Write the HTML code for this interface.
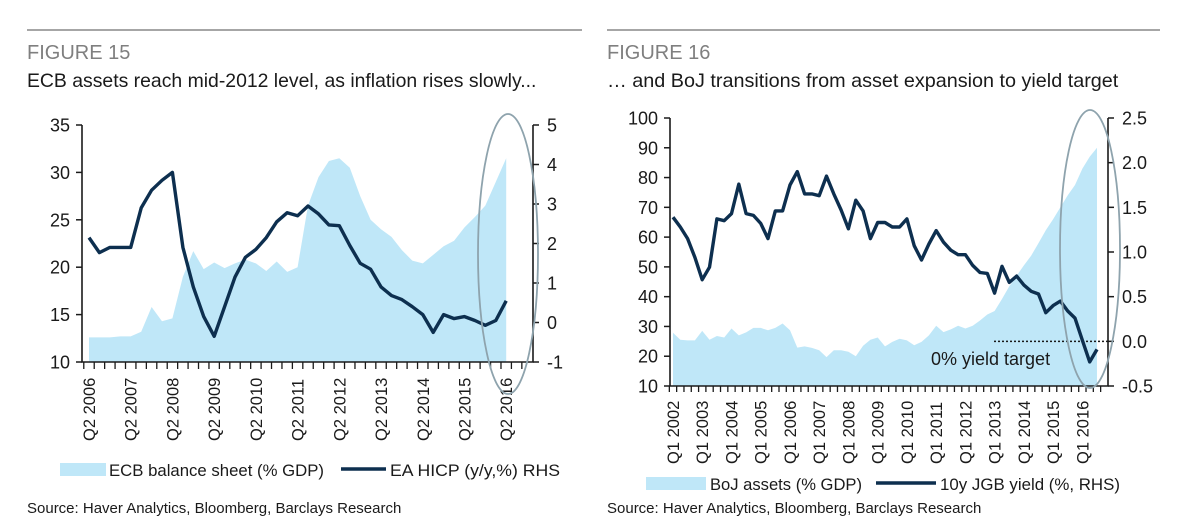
<!DOCTYPE html>
<html><head><meta charset="utf-8"><style>
html,body{margin:0;padding:0;background:#fff;}
svg{display:block;font-family:"Liberation Sans",sans-serif;}
</style></head><body>
<svg id="root" width="1200" height="528" viewBox="0 0 1200 528">
<rect width="1200" height="528" fill="#fff"/>
<line x1="27" y1="30" x2="582" y2="30" stroke="#a6a6a6" stroke-width="2"/>
<text x="27" y="59" font-size="20" fill="#7f7f7f">FIGURE 15</text>
<text x="27" y="87" font-size="19.4" fill="#1a1a1a">ECB assets reach mid-2012 level, as inflation rises slowly...</text>
<line x1="607" y1="30" x2="1160" y2="30" stroke="#a6a6a6" stroke-width="2"/>
<text x="607" y="59" font-size="20" fill="#7f7f7f">FIGURE 16</text>
<text x="607" y="87" font-size="19.8" fill="#1a1a1a">… and BoJ transitions from asset expansion to yield target</text>
<g id="c1"></g>
<g id="c2"></g>
<rect x="60" y="463" width="46" height="13" fill="#bfe7f8"/>
<text x="109" y="476" font-size="17" textLength="215" lengthAdjust="spacingAndGlyphs" fill="#1a1a1a">ECB balance sheet (% GDP)</text>
<line x1="341" y1="469" x2="386" y2="469" stroke="#0d2f4f" stroke-width="3.5"/>
<text x="390" y="476" font-size="17" textLength="170" lengthAdjust="spacingAndGlyphs" fill="#1a1a1a">EA HICP (y/y,%) RHS</text>
<text x="27" y="513" font-size="15" fill="#1a1a1a">Source: Haver Analytics, Bloomberg, Barclays Research</text>
<rect x="646" y="477" width="60" height="13" fill="#bfe7f8"/>
<text x="710" y="490" font-size="17" textLength="152" lengthAdjust="spacingAndGlyphs" fill="#1a1a1a">BoJ assets (% GDP)</text>
<line x1="876" y1="483" x2="936" y2="483" stroke="#0d2f4f" stroke-width="3.5"/>
<text x="940" y="490" font-size="17" textLength="180" lengthAdjust="spacingAndGlyphs" fill="#1a1a1a">10y JGB yield (%, RHS)</text>
<text x="607" y="513" font-size="15" fill="#1a1a1a">Source: Haver Analytics, Bloomberg, Barclays Research</text>
</svg>
<script>
const NS='http://www.w3.org/2000/svg';
function mk(p,t,a){const e=document.createElementNS(NS,t);for(const k in a)e.setAttribute(k,a[k]);p.appendChild(e);return e;}

// ---------- Chart 1 data ----------
const ecbYears=['Q2 2006','Q2 2007','Q2 2008','Q2 2009','Q2 2010','Q2 2011','Q2 2012','Q2 2013','Q2 2014','Q2 2015','Q2 2016'];
const ecbAssets=[12.6,12.6,12.6,12.7,12.7,13.2,15.8,14.3,14.6,19.0,21.7,19.8,20.5,19.9,20.4,20.8,20.4,19.6,20.6,19.5,20.0,26.5,29.5,31.2,31.5,30.5,27.5,25.0,24.0,23.2,21.8,20.7,20.4,21.3,22.2,22.8,24.2,25.3,26.5,29.0,31.5];
const hicp=[2.15,1.77,1.9,1.9,1.9,2.9,3.35,3.6,3.8,1.9,0.9,0.15,-0.35,0.4,1.15,1.65,1.85,2.15,2.55,2.78,2.7,2.95,2.75,2.47,2.45,1.95,1.5,1.35,0.9,0.68,0.58,0.4,0.2,-0.25,0.2,0.1,0.15,0.05,-0.07,0.05,0.55];
const ecbLeftTicks=[10,15,20,25,30,35];
const ecbRightTicks=[-1,0,1,2,3,4,5];

// ---------- Chart 2 data ----------
const bojYears=['Q1  2002','Q1  2003','Q1  2004','Q1  2005','Q1  2006','Q1  2007','Q1  2008','Q1  2009','Q1  2010','Q1  2011','Q1  2012','Q1  2013','Q1  2014','Q1  2015','Q1  2016'];
const bojAssets=[27.9,25.5,25.3,25.3,28.5,25.5,26.8,26.3,29.3,27,28,29.5,29.5,28.7,29.5,31,28.7,22.9,23.3,22.8,22,19.7,22,22,21.5,20,23.5,25.5,26.3,23.3,24.8,25.9,25.3,23.7,24.8,27,30.2,28.1,29,30.2,29.3,30.2,32,34,35.2,39.2,43.5,47,50.5,53.8,58,62.3,66,70,74,77.5,83,87,90];
const jgb=[1.39,1.28,1.15,0.94,0.69,0.83,1.37,1.35,1.43,1.76,1.43,1.41,1.32,1.15,1.46,1.46,1.75,1.9,1.65,1.65,1.63,1.85,1.65,1.47,1.26,1.58,1.46,1.15,1.33,1.33,1.28,1.28,1.37,1.07,0.91,1.09,1.24,1.11,1.02,0.97,0.97,0.85,0.77,0.76,0.54,0.84,0.66,0.73,0.63,0.56,0.53,0.32,0.4,0.45,0.34,0.26,0.01,-0.23,-0.09];
const bojLeftTicks=[10,20,30,40,50,60,70,80,90,100];
const bojRightTicks=['-0.5','0.0','0.5','1.0','1.5','2.0','2.5'];

function drawChart(g,o){
  const X=i=>o.x0+i*o.step;
  const YL=v=>o.yb-(v-o.lmin)/(o.lmax-o.lmin)*(o.yb-o.yt);
  const YR=v=>o.yb-(v-o.rmin)/(o.rmax-o.rmin)*(o.yb-o.yt);
  let d='M'+X(0)+','+o.yb;
  o.area.forEach((v,i)=>d+=' L'+X(i).toFixed(1)+','+YL(v).toFixed(1));
  d+=' L'+X(o.area.length-1)+','+o.yb+' Z';
  const a=mk(g,'path',{d:d,fill:'#bfe7f8'});
  
  
  if(o.extra)o.extra(g,YR);
  let p='';
  o.line.forEach((v,i)=>p+=(i?' L':'M')+X(i).toFixed(1)+','+YR(v).toFixed(1));
  const l=mk(g,'path',{d:p,fill:'none',stroke:'#0d2f4f','stroke-width':3.4,'stroke-linejoin':'round'});
  
  
  const ax=mk(g,'path',{d:`M${o.xl},${o.yt} V${o.yb} H${o.xr} V${o.yt}`,fill:'none',stroke:'#1a1a1a','stroke-width':1.6});
  
  
  o.lt.forEach(v=>{
    const y=YL(v);
    mk(g,'line',{x1:o.xl-6,y1:y,x2:o.xl,y2:y,stroke:'#1a1a1a','stroke-width':1.5});
    const t=mk(g,'text',{x:o.xl-12,y:y+6.5,'text-anchor':'end','font-size':18,fill:'#1a1a1a'});
    t.textContent=v;
    
    
  });
  o.rt.forEach(s=>{
    const y=YR(parseFloat(s));
    mk(g,'line',{x1:o.xr,y1:y,x2:o.xr+6,y2:y,stroke:'#1a1a1a','stroke-width':1.5});
    const t=mk(g,'text',{x:o.xr+14,y:y+6.5,'font-size':18,fill:'#1a1a1a'});
    t.textContent=s;
    
    
  });
  for(let i=0;i<=o.nTicks;i++){
    const x=X(i-0.5);
    mk(g,'line',{x1:x,y1:o.yb,x2:x,y2:o.yb+o.tl,stroke:'#1a1a1a','stroke-width':1.3});
  }
  o.labels.forEach((s,k)=>{
    const x=X(k*4)+6, y=o.lb;
    const t=mk(g,'text',{x:x,y:y,'font-size':16.5,fill:'#1a1a1a',transform:`rotate(-90 ${x} ${y})`,'xml:space':'preserve'});
    t.textContent=s;
    
    
  });
  const el=mk(g,'ellipse',{cx:o.ell[0],cy:o.ell[1],rx:o.ell[2],ry:o.ell[3],fill:'none',stroke:'#8ea3ad','stroke-width':1.8});
  
  
}

drawChart(document.getElementById('c1'),{
  x0:89,step:10.43,yt:125,yb:362,xl:82,xr:533,lmin:10,lmax:35,rmin:-1,rmax:5,
  area:ecbAssets,line:hicp,lt:ecbLeftTicks,rt:ecbRightTicks.map(String),nTicks:42,tl:7,
  labels:ecbYears,lb:441,ell:[508,254,30,140],areaName:'ecb-balance-sheet-area',lineName:'hicp-line'
});
drawChart(document.getElementById('c2'),{
  x0:673,step:7.31,yt:118,yb:386,xl:670,xr:1108,lmin:10,lmax:100,rmin:-0.5,rmax:2.5,
  area:bojAssets,line:jgb,lt:bojLeftTicks,rt:bojRightTicks,nTicks:59,tl:6,
  labels:bojYears,lb:464,ell:[1090,249,30,139],areaName:'boj-assets-area',lineName:'jgb-yield-line',
  extra:(g,YR)=>{
    const y=YR(0);
    const dl=mk(g,'line',{x1:994,y1:y,x2:1108,y2:y,stroke:'#1a1a1a','stroke-width':1.5,'stroke-dasharray':'2,2'});
    
    
    const t=mk(g,'text',{x:931,y:365,'font-size':18,fill:'#1a1a1a'});
    t.textContent='0% yield target';
    
    
  }
});
</script>
</body></html>
